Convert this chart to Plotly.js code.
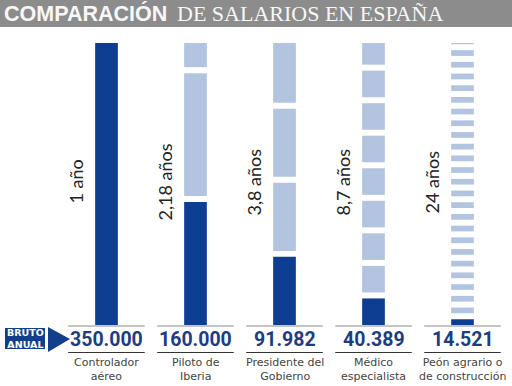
<!DOCTYPE html>
<html>
<head>
<meta charset="utf-8">
<script src="https://cdn.plot.ly/plotly-3.0.1.min.js"></script>
<style>html,body{margin:0;padding:0;background:#fff;}#chart{width:512px;height:386px;}</style>
</head>
<body>
<div id="chart"></div>
<script>
// ---- data ----
var categories = ["Controlador<br>aéreo", "Piloto de<br>Iberia", "Presidente del<br>Gobierno", "Médico<br>especialista", "Peón agrario o<br>de construcción"];
var salaries = [350000, 160000, 91982, 40389, 14521];
var yearLabels = ["1 año", "2,18 años", "3,8 años", "8,7 años", "24 años"];
var reference = 350000; // the controller's yearly salary = full column height

// ---- build stacked yearly segments ----
var GAP = 7400; // white gap between segments (data units)
var darkX = [], darkY = [], darkB = [], lightX = [], lightY = [], lightB = [];
salaries.forEach(function (s, i) {
  var k = 0;
  while (k * s < reference) {
    var base = k * s;
    var top = (k + 1) * s >= reference ? reference : (k + 1) * s - GAP;
    if (k === 0) { darkX.push(i); darkB.push(base); darkY.push(top - base); }
    else { lightX.push(i); lightB.push(base); lightY.push(top - base); }
    k++;
  }
});

function fmt(v) { return String(v).replace(/\B(?=(\d{3})+(?!\d))/g, "."); }

var W = 512, H = 386, L = 62, R = 5, T = 43, B = 61;
var pw = W - L - R, ph = H - T - B;
function px(x) { return (x - L) / pw; }
function py(y) { return (H - B - y) / ph; }

var traces = [
  { type: "bar", x: lightX, y: lightY, base: lightB, width: 0.255, marker: { color: "#b2c4e0", line: { width: 0 } }, hoverinfo: "skip" },
  { type: "bar", x: darkX, y: darkY, base: darkB, width: 0.255, marker: { color: "#0e3e92", line: { width: 0 } }, hoverinfo: "skip" }
];

var shapes = [
  // title band
  { type: "rect", xref: "paper", yref: "paper", x0: px(0), x1: px(W), y0: py(27), y1: py(0), fillcolor: "#8c8c8c", line: { width: 0 }, layer: "below" },
  // BRUTO ANUAL box
  { type: "rect", xref: "paper", yref: "paper", x0: px(5), x1: px(45), y0: py(349), y1: py(328), fillcolor: "#123f8c", line: { width: 0 } },
  { type: "path", xref: "paper", yref: "paper", path: "M " + px(48) + " " + py(327) + " L " + px(70) + " " + py(339) + " L " + px(48) + " " + py(352) + " Z", fillcolor: "#123f8c", line: { width: 0 } }
];
var annotations = [
  { xref: "paper", yref: "paper", x: px(25), y: py(338.5), text: "<b>BRUTO<br>ANUAL</b>", showarrow: false, font: { family: "DejaVu Sans", stretch: "condensed", size: 9.5, color: "#ffffff" }, align: "center", xanchor: "center", yanchor: "middle" },
  { xref: "paper", yref: "paper", x: px(175), y: py(14), text: "DE SALARIOS EN ESPAÑA", showarrow: false, font: { family: "Liberation Serif", size: 22, color: "#f7f7f7" }, xanchor: "left", yanchor: "middle" }
];
categories.forEach(function (c, i) {
  shapes.push({ type: "line", xref: "x", yref: "paper", x0: i - 0.43, x1: i + 0.43, y0: py(326), y1: py(326), line: { color: "#8a8a8a", width: 1 } });
  shapes.push({ type: "line", xref: "x", yref: "paper", x0: i - 0.43, x1: i + 0.43, y0: py(352.5), y1: py(352.5), line: { color: "#333333", width: 1 } });
  annotations.push({ xref: "x", yref: "paper", x: i, y: py(339.5), text: "<b>" + fmt(salaries[i]) + "</b>", showarrow: false, font: { family: "Roboto", size: 19.5, color: "#1c3d86" }, xanchor: "center", yanchor: "middle" });
  annotations.push({ xref: "x", yref: "paper", x: i, y: py(369.5), text: c, showarrow: false, font: { family: "DejaVu Sans", stretch: "condensed", size: 11, color: "#444444" }, xanchor: "center", yanchor: "middle", align: "center" });
  annotations.push({ xref: "x", yref: "y", x: i, xshift: -30, y: reference * 0.507, text: yearLabels[i], textangle: -90, showarrow: false, font: { family: "Lato", size: 18, color: "#222222" }, xanchor: "center", yanchor: "middle" });
});

var layout = {
  width: W, height: H,
  margin: { l: L, r: R, t: T, b: B, pad: 0 },
  paper_bgcolor: "#ffffff", plot_bgcolor: "#ffffff",
  showlegend: false,
  barmode: "overlay",
  title: {
    text: "<b>COMPARACIÓN</b>",
    font: { family: "Liberation Sans", size: 21.5, color: "#f7f7f7" },
    x: 4 / W, xref: "container", xanchor: "left",
    y: 1 - 13.5 / H, yref: "container", yanchor: "middle"
  },
  xaxis: { range: [-0.5, 4.5], visible: false, fixedrange: true },
  yaxis: { range: [0, reference], visible: false, fixedrange: true },
  shapes: shapes,
  annotations: annotations
};

Plotly.newPlot("chart", traces, layout, { displayModeBar: false, staticPlot: true });
</script>
</body>
</html>
